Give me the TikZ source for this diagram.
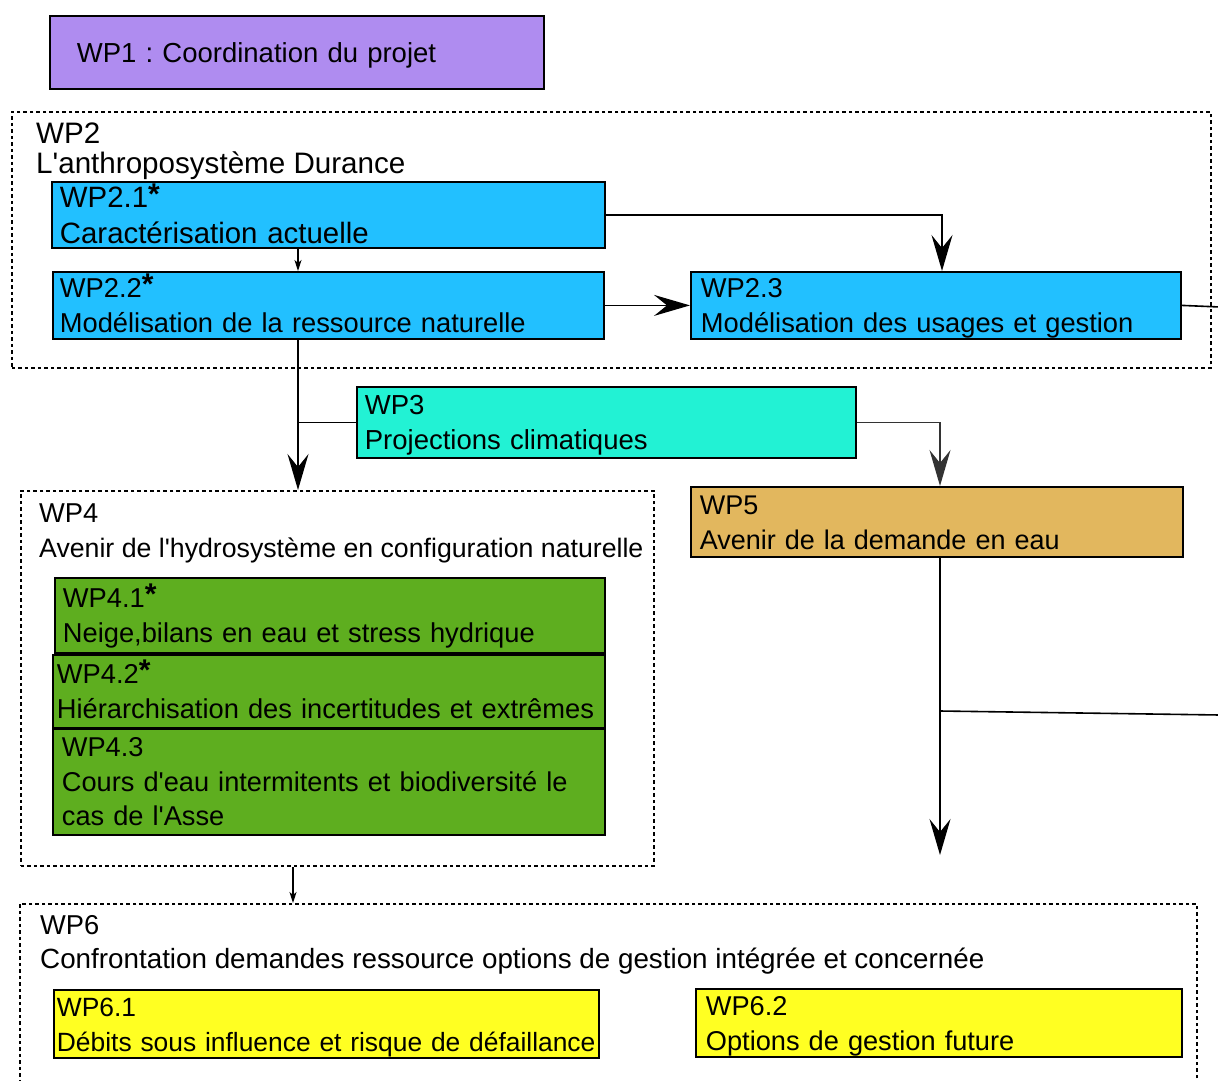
\documentclass[tikz,border=0pt]{standalone}
\usepackage{fontspec}
\setmainfont{Liberation Sans}
\usetikzlibrary{arrows.meta}
\definecolor{cpurple}{RGB}{175,140,240}
\definecolor{cblue}{RGB}{34,192,255}
\definecolor{cturq}{RGB}{34,242,212}
\definecolor{cgold}{RGB}{226,183,94}
\definecolor{cgreen}{RGB}{94,174,31}
\definecolor{cyellow}{RGB}{255,255,34}
\definecolor{cdark}{RGB}{51,51,51}
\newcommand{\wpstar}{\raisebox{3pt}{\fontsize{30}{35}\selectfont\bfseries *}}
\newcommand{\apos}{\textquotesingle}
\begin{document}
\frenchspacing
\hyphenpenalty=10000
\exhyphenpenalty=10000
\begin{tikzpicture}[x=1pt,y=-1pt,
  fs/.style={font=\fontsize{#1}{35}\selectfont},
  every node/.style={fs=27.3},
  wpbox/.style={draw=black, line width=1.8pt, anchor=north west, inner ysep=0pt,
    align=left, text height=20pt, text depth=35pt},
  onebox/.style={wpbox, text depth=0pt},
  threebox/.style={wpbox, text depth=70pt},
  cont/.style={draw=black, line width=1.8pt, dash pattern=on 3.5pt off 3pt,
    anchor=north west, inner sep=0pt},
  wptitle/.style={anchor=base west, inner sep=0pt},
  conn/.style={line width=1.6pt},
  big/.style={conn, -{Stealth[length=36pt, width=21pt, inset=13pt]}},
  small/.style={line width=1.2pt, -{Stealth[length=11pt, width=7pt, inset=3pt]}},
]
\useasboundingbox (0,0) rectangle (1218,1081);

% WP1
\node[onebox, fill=cpurple, minimum width=494pt, minimum height=73pt,
  inner xsep=27pt, text width=440pt, fs=27.5] (wp1) at (49,15) {WP1 : Coordination du projet};

% WP2 container
\node[cont, minimum width=1199pt, minimum height=256pt] (wp2) at (11,111) {};
\node[wptitle, fs=29.6] (wp2a) at (36,143) {WP2};
\node[wptitle, fs=29.6] (wp2b) at (36,173) {L\apos anthroposystème Durance};

\node[wpbox, fill=cblue, minimum width=553pt, minimum height=66pt,
  inner xsep=8pt, text width=537pt, font=\fontsize{29.4}{36}\selectfont] (wp21) at (51,181)
  {WP2.1\wpstar\\Caractérisation actuelle};
\node[wpbox, fill=cblue, minimum width=551pt, minimum height=67pt,
  inner xsep=7pt, text width=537pt] (wp22) at (52,271)
  {WP2.2\wpstar\\Modélisation de la ressource naturelle};
\node[wpbox, fill=cblue, minimum width=490pt, minimum height=67pt,
  inner xsep=10pt, text width=470pt] (wp23) at (690,271)
  {WP2.3\\Modélisation des usages et gestion};

% WP3
\node[wpbox, fill=cturq, minimum width=499pt, minimum height=71pt,
  inner xsep=8pt, text width=483pt, fs=27.5] (wp3) at (356,386)
  {WP3\\Projections climatiques};

% WP5
\node[wpbox, fill=cgold, minimum width=492pt, minimum height=70pt,
  inner xsep=9pt, text width=474pt, fs=27.0] (wp5) at (690,486)
  {WP5\\Avenir de la demande en eau};

% WP4 container
\node[cont, minimum width=633pt, minimum height=375pt] (wp4) at (20,490) {};
\node[wptitle] (wp4a) at (39,522) {WP4};
\node[wptitle, fs=26.7] (wp4b) at (39,557) {Avenir de l\apos hydrosystème en configuration naturelle};

\node[wpbox, fill=cgreen, minimum width=550pt, minimum height=75pt,
  inner xsep=8pt, text width=534pt] (wp41) at (54,577)
  {WP4.1\wpstar\\Neige,bilans en eau et stress hydrique};
\node[wpbox, fill=cgreen, minimum width=552pt, minimum height=73pt,
  inner xsep=4pt, text width=544pt] (wp42) at (52,654)
  {WP4.2\wpstar\\Hiérarchisation des incertitudes et extrêmes};
\node[threebox, fill=cgreen, minimum width=552pt, minimum height=106pt,
  inner xsep=9pt, text width=534pt, font=\fontsize{27.2}{34.5}\selectfont] (wp43) at (52,728)
  {WP4.3\\Cours d\apos eau intermitents et biodiversité le\\cas de l\apos Asse};

% WP6 container
\node[cont, minimum width=1177pt, minimum height=200pt] (wp6) at (19,903) {};
\node[wptitle] (wp6a) at (40,934) {WP6};
\node[wptitle, fs=27.8] (wp6b) at (40,968) {Confrontation demandes ressource options de gestion intégrée et concernée};

\node[wpbox, fill=cyellow, minimum width=545pt, minimum height=68pt,
  inner xsep=3pt, text width=539pt, fs=26.4] (wp61) at (53,989)
  {WP6.1\\\mbox{Débits sous influence et risque de défaillance}};
\node[wpbox, fill=cyellow, minimum width=486pt, minimum height=68pt,
  inner xsep=10pt, text width=466pt, fs=27.2] (wp62) at (695,988)
  {WP6.2\\Options de gestion future};

% connectors
\draw[small] (298,0 |- wp21.south) -- (298,0 |- wp22.north);
\draw[big] (wp21.east) -| (942,0 |- wp23.north);
\draw[big] (wp22.east) -- (wp23.west);
\coordinate (out23) at (1220,307);
\draw[conn] (wp23.east) -- (out23);
\draw[big] (298,0 |- wp22.south) -- (298,0 |- wp4.north);
\draw[conn] (wp3.west) -- (298,0 |- wp3.west);
\draw[big, draw=cdark] (wp3.east) -| (940,0 |- wp5.north);
\coordinate (end5) at (940,855);
\coordinate (j5) at (940,711);
\coordinate (out5) at (1220,715);
\draw[big] (end5 |- wp5.south) -- (end5);
\draw[conn] (j5) -- (out5);
\draw[small] (293,0 |- wp4.south) -- (293,0 |- wp6.north);
\end{tikzpicture}
\end{document}
